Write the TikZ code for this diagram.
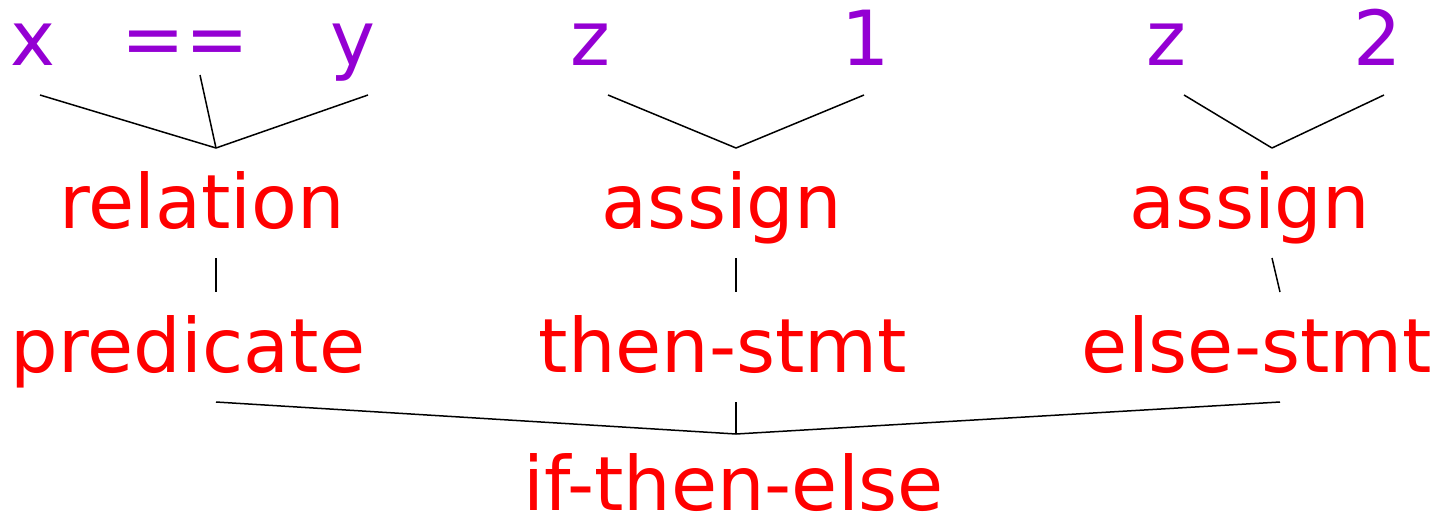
\documentclass[tikz,border=0pt]{standalone}
\usepackage{fontspec}
\setmainfont{DejaVu Sans}
\definecolor{tokpurple}{HTML}{9400D3}
\begin{document}
\begin{tikzpicture}[x=0.5pt,y=-0.5pt,
  cat/.style={text=red,inner sep=0pt,anchor=base,font=\fontsize{37.5}{44}\selectfont},
  tok/.style={text=tokpurple,inner sep=0pt,anchor=base,font=\fontsize{38}{46}\selectfont},
  link/.style={draw=black,line width=0.75pt}]
\useasboundingbox (0,0) rectangle (1437,515);
% tokens
\node[tok] (tx) at (33,65) {x};
\node[tok] (teq) at (185,65) {==};
\node[tok] (ty) at (353,65) {y};
\node[tok] (tz1) at (590,65) {z};
\node[tok] (tone) at (866,65) {1};
\node[tok] (tz2) at (1166,65) {z};
\node[tok] (ttwo) at (1378,65) {2};
% categories
\node[cat] (rel) at (202,228) {relation};
\node[cat] (as1) at (722,228) {assign};
\node[cat] (as2) at (1250,228) {assign};
\node[cat] (pred) at (188,372) {predicate};
\node[cat] (then) at (723,372) {then-stmt};
\node[cat] (else) at (1257,372) {else-stmt};
\node[cat] (ite) at (734,510) {if-then-else};
% attachment points
\coordinate (txb) at (40,95);
\coordinate (teqb) at (200,75);
\coordinate (tyb) at (368,95);
\coordinate (tz1b) at (608,95);
\coordinate (toneb) at (864,95);
\coordinate (tz2b) at (1184,95);
\coordinate (ttwob) at (1384,95);
\coordinate (relt) at (216,148);
\coordinate (as1t) at (736,148);
\coordinate (as2t) at (1272,148);
\coordinate (relb) at (216,258);
\coordinate (as1b) at (736,258);
\coordinate (as2b) at (1272,258);
\coordinate (predt) at (216,292);
\coordinate (thent) at (736,292);
\coordinate (elset) at (1280,292);
\coordinate (predb) at (216,402);
\coordinate (thenb) at (736,402);
\coordinate (elseb) at (1280,402);
\coordinate (itet) at (736,434);
% connectors
\draw[link] (txb) -- (relt);
\draw[link] (teqb) -- (relt);
\draw[link] (tyb) -- (relt);
\draw[link] (tz1b) -- (as1t);
\draw[link] (toneb) -- (as1t);
\draw[link] (tz2b) -- (as2t);
\draw[link] (ttwob) -- (as2t);
\draw[link] (relb) -- (predt);
\draw[link] (as1b) -- (thent);
\draw[link] (as2b) -- (elset);
\draw[link] (predb) -- (itet);
\draw[link] (thenb) -- (itet);
\draw[link] (elseb) -- (itet);
\end{tikzpicture}
\end{document}
